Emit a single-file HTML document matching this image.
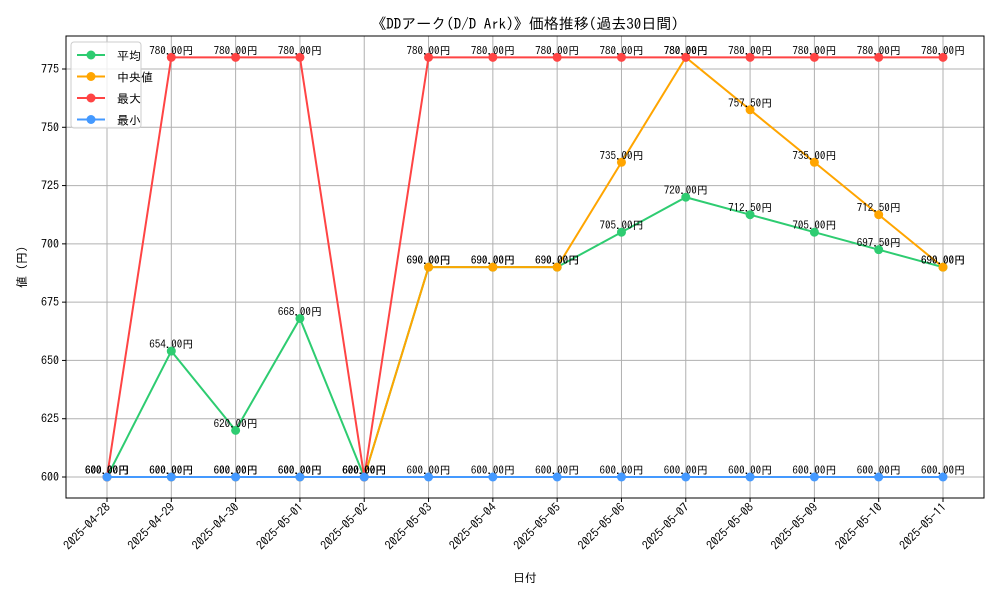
<!DOCTYPE html>
<html><head><meta charset="utf-8"><style>
body{margin:0;background:#fff}
svg text{font-family:"IPAGothic","Liberation Mono","Noto Sans CJK JP",monospace;fill:#000}
</style></head><body>
<svg width="1000" height="600">
<rect width="1000" height="600" fill="#fff"/>
<text x="525" y="29" font-size="15" text-anchor="middle">《DDアーク(D/D Ark)》価格推移(過去30日間)</text>
<g id="grid"></g>
<rect x="66" y="36" width="918" height="462" fill="none" stroke="#000" stroke-width="1"/>
<g id="series"></g>
<g id="labels"></g>
<text x="525" y="582" font-size="12" text-anchor="middle">日付</text>
<text x="26" y="267" font-size="12" text-anchor="middle" transform="rotate(-90 26 267)">値 (円)</text>
<g>
<rect x="71" y="42" width="70" height="86" rx="3" fill="#fff" fill-opacity="0.8" stroke="#ccc"/>
<g id="legend"></g>
</g>
</svg>
<script>
const dates=["2025-04-28","2025-04-29","2025-04-30","2025-05-01","2025-05-02","2025-05-03","2025-05-04","2025-05-05","2025-05-06","2025-05-07","2025-05-08","2025-05-09","2025-05-10","2025-05-11"];
const avgVals=[600,654,620,668,600,690,690,690,705,720,712.5,705,697.5,690];
const medianVals=[600,600,600,600,600,690,690,690,735,780,757.5,735,712.5,690];
const maxVals=[600,780,780,780,600,780,780,780,780,780,780,780,780,780];
const minVals=[600,600,600,600,600,600,600,600,600,600,600,600,600,600];
const yTicks=[600,625,650,675,700,725,750,775];
const seriesNames=["平均","中央値","最大","最小"];
const NS="http://www.w3.org/2000/svg";
const X=i=>107+i*(836/13);
const Y=v=>477-(v-600)*(408/175);
function mk(tag,attrs,parent){const e=document.createElementNS(NS,tag);for(const k in attrs)e.setAttribute(k,attrs[k]);parent.appendChild(e);return e;}
const grid=document.getElementById('grid');
const svg=document.querySelector('svg');
yTicks.forEach(t=>{
 const l=mk('line',{x1:66,x2:984,y1:Y(t),y2:Y(t),stroke:'#b0b0b0','stroke-width':1},grid);
 
 
 mk('line',{x1:62,x2:66,y1:Y(t),y2:Y(t),stroke:'#000'},grid);
 const tx=mk('text',{x:59,y:Y(t)+4,'font-size':12,'text-anchor':'end'},grid);
 tx.textContent=t;
 
 
});
dates.forEach((d,i)=>{
 const l=mk('line',{x1:X(i),x2:X(i),y1:36,y2:498,stroke:'#b0b0b0','stroke-width':1},grid);
 
 
 mk('line',{x1:X(i),x2:X(i),y1:498,y2:502,stroke:'#000'},grid);
 const tx=mk('text',{x:X(i)+4,y:508,'font-size':12,'text-anchor':'end',transform:`rotate(-45 ${X(i)+4} 508)`},grid);
 tx.textContent=d;
 
 
});
const sg=document.getElementById('series'),lg=document.getElementById('labels'),leg=document.getElementById('legend');
const all=[avgVals,medianVals,maxVals,minVals];
const colors=['#2ecc71','#ffa500','#ff4444','#4499ff'];
const names=['avg','median','max','min'];
all.forEach((vals,s)=>{
 const p=mk('polyline',{points:vals.map((v,i)=>X(i)+','+Y(v)).join(' '),fill:'none',stroke:colors[s],'stroke-width':2},sg);
 
 
 vals.forEach((v,i)=>{
  const c=mk('circle',{cx:X(i),cy:Y(v),r:4.5,fill:colors[s]},sg);
  
  
  const t=mk('text',{x:X(i),y:Y(v)-3,'font-size':11,'text-anchor':'middle'},lg);
  t.textContent=v.toFixed(2)+'円';
  
  
 });
 const ly=55+s*21.5;
 mk('line',{x1:77,x2:105,y1:ly,y2:ly,stroke:colors[s],'stroke-width':2},leg);
 mk('circle',{cx:91,cy:ly,r:4.5,fill:colors[s]},leg);
 const t=mk('text',{x:117,y:ly+5,'font-size':12},leg);
 t.textContent=seriesNames[s];
 
 
});
</script>
</body></html>
